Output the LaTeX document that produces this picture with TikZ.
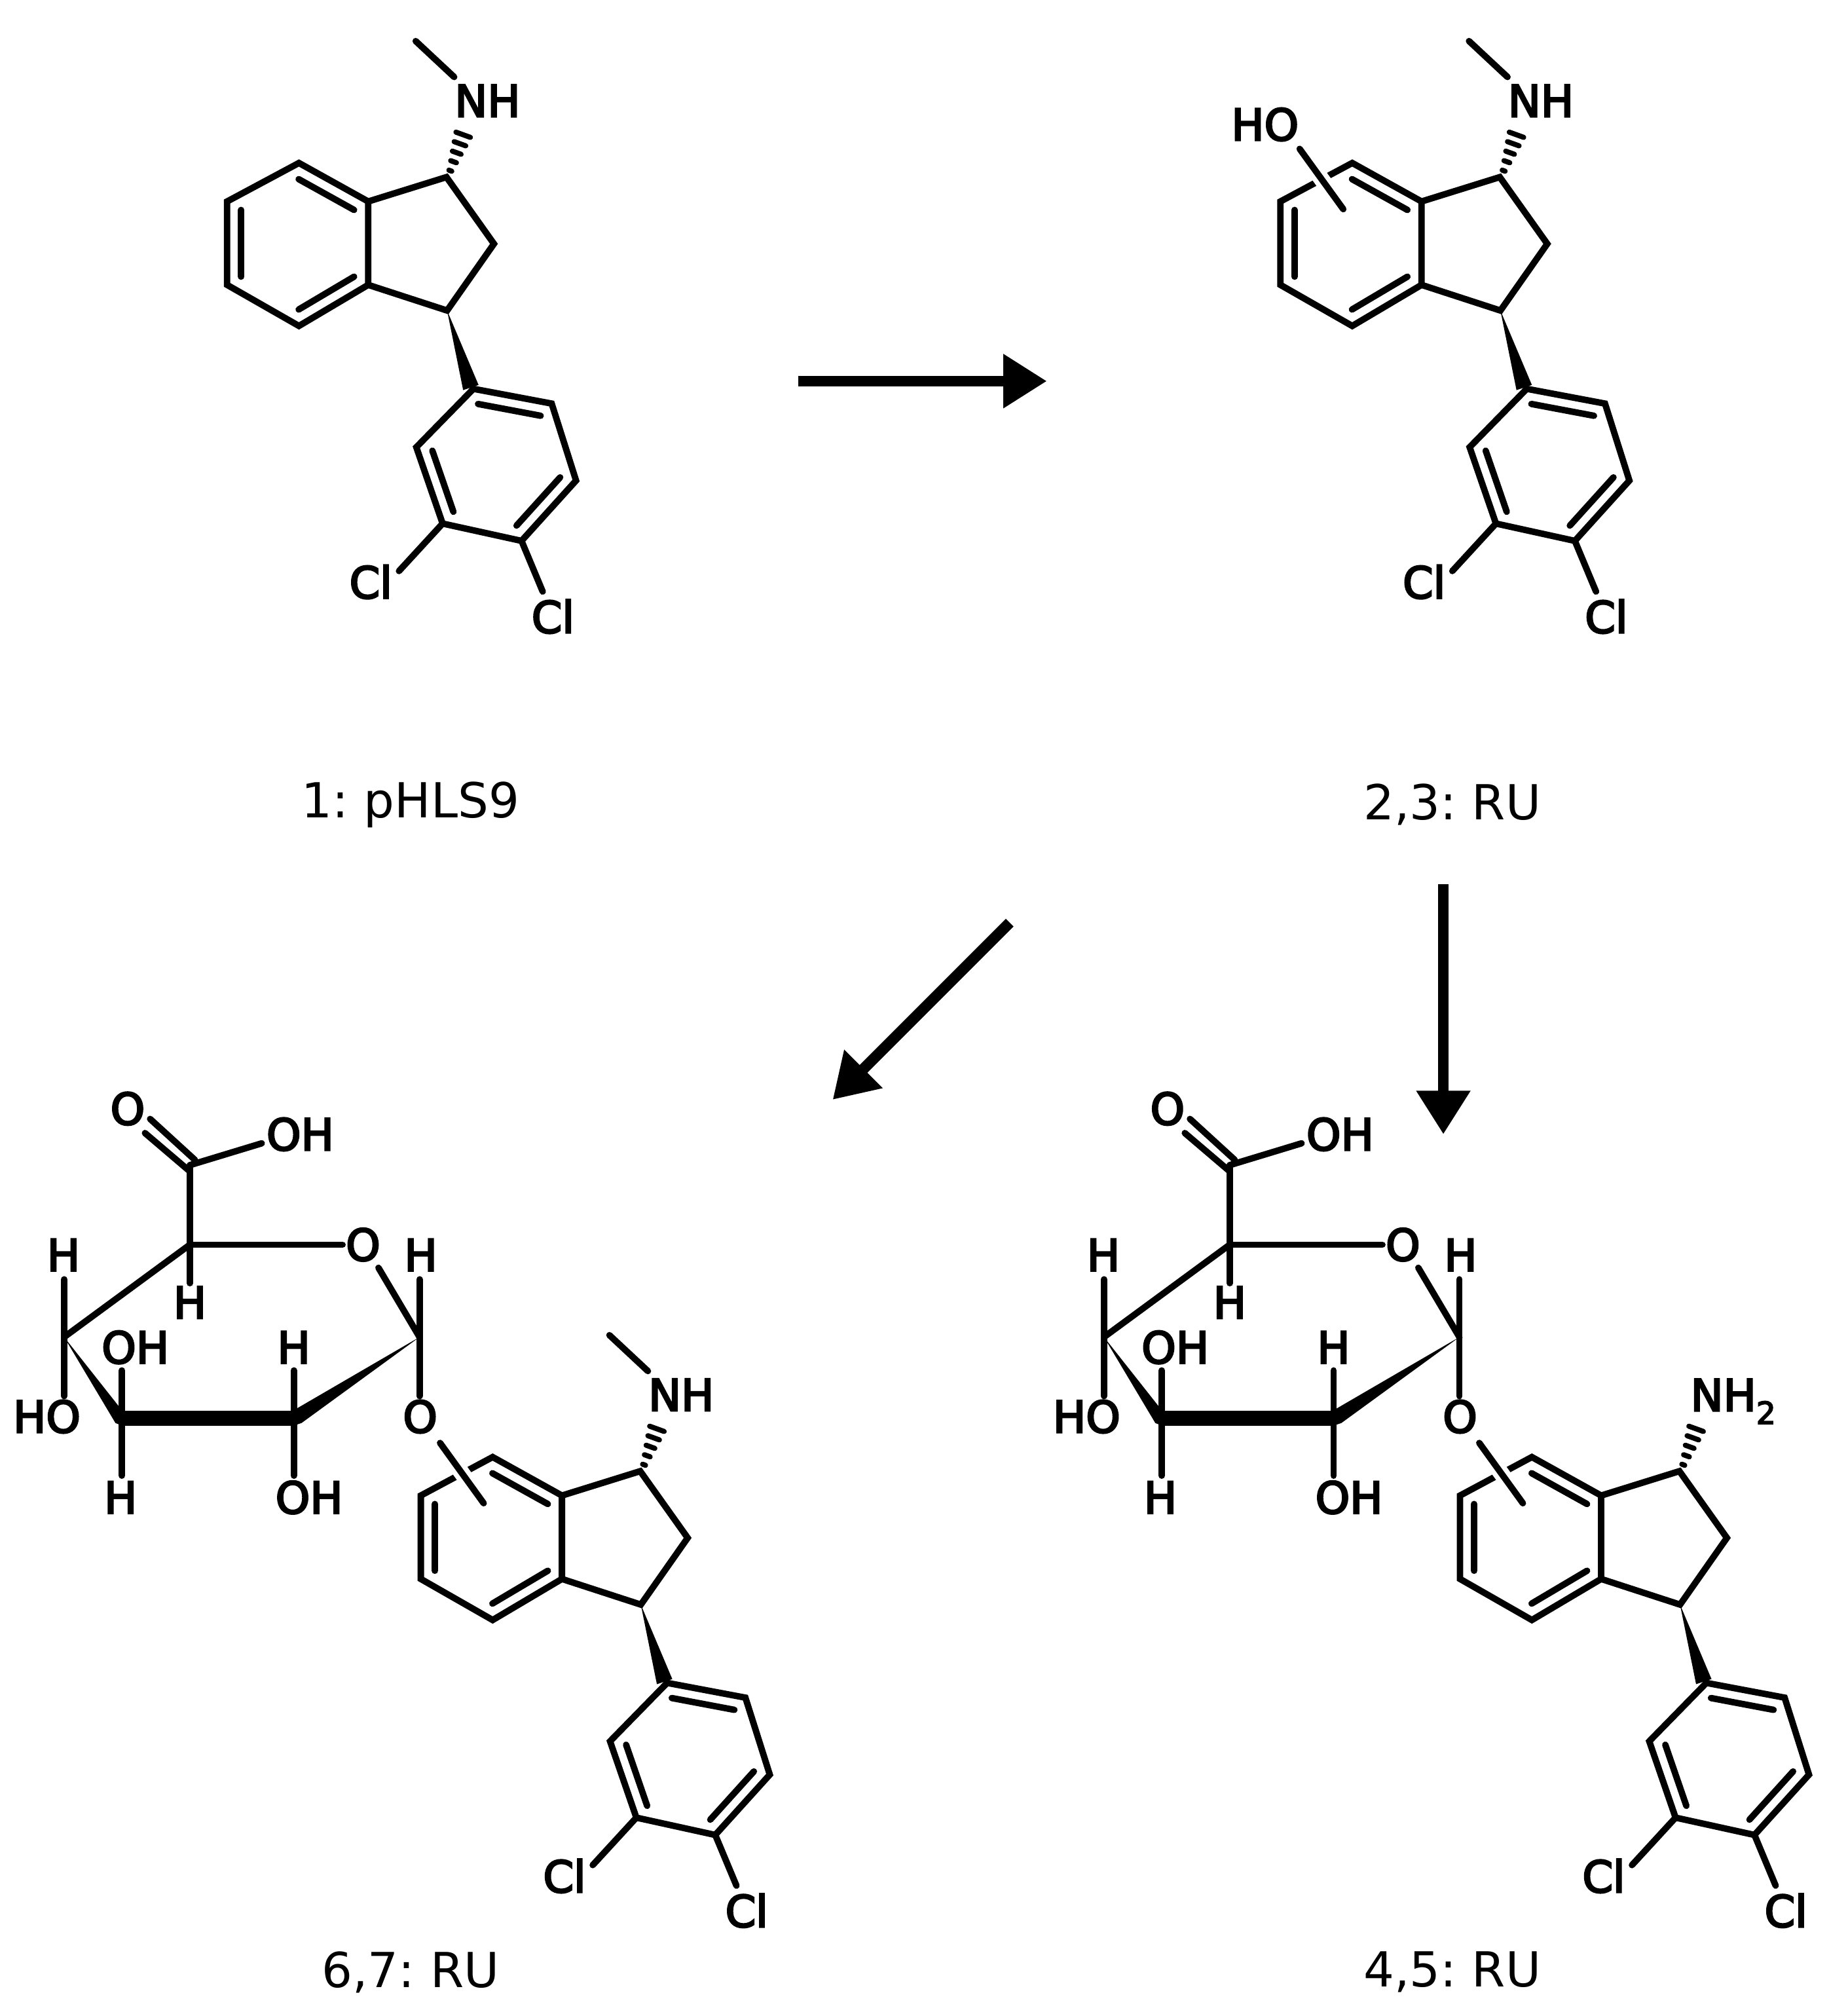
\documentclass[tikz,border=0pt]{standalone}
\usepackage{fontspec}
\setmainfont{DejaVu Sans}
\newfontfamily\atomfont[FakeBold=4]{DejaVu Sans}
\usetikzlibrary{calc,arrows.meta}
\tikzset{
	bond/.style={line width=0.05cm, line cap=round, line join=miter, color=black},
	wedge/.style={fill=black, draw=none},
	atom/.style={inner sep=0pt, font=\atomfont\fontsize{9.7}{12}\selectfont},
	capt/.style={inner sep=0pt, font=\frenchspacing\fontsize{10.7}{13}\selectfont},
	bigarrow/.style={line width=0.085cm, -{Triangle[length=3.4mm,width=4mm]}}
}
% inner line of a double bond: ends, then ring centre
\def\dbl(#1,#2,#3){\draw[bond] ($(#1)!0.2!(#3)$) -- ($(#2)!0.2!(#3)$);}

% rings, with the sizes read off mol 1
\def\indanecore{
	\coordinate (ca) at (348, 138);
	\coordinate (cb) at (385, 190);
	\coordinate (cc) at (348.5, 242);
	\coordinate (cd) at (287, 222);
	\coordinate (ce) at (287, 157);
	\coordinate (cf) at (233, 127);
	\coordinate (cg) at (177, 157);
	\coordinate (ch) at (177, 222);
	\coordinate (ci) at (233, 254);
	\coordinate (benz) at (232, 190);
	\coordinate (ra) at (369, 303);
	\coordinate (rb) at (430, 314.5);
	\coordinate (rc) at (449, 374.5);
	\coordinate (rd) at (406.5, 421.5);
	\coordinate (re) at (345, 408);
	\coordinate (rf) at (324.5, 348.5);
	\coordinate (aryl) at (387, 362);
	\coordinate (cla) at (311, 445);
	\coordinate (clb) at (423, 461);
	\draw[bond] (ca) -- (cb) -- (cc) -- (cd) -- (ce) -- cycle;
	\draw[bond] (ce) -- (cf) -- (cg) -- (ch) -- (ci) -- (cd);
	\dbl(ce,cf,benz)
	\dbl(cg,ch,benz)
	\dbl(ci,cd,benz)
	\draw[bond] (ra) -- (rb) -- (rc) -- (rd) -- (re) -- (rf) -- cycle;
	\dbl(ra,rb,aryl)
	\dbl(rc,rd,aryl)
	\dbl(re,rf,aryl)
	\fill[wedge] (cc) -- (361, 304) -- (373, 300) -- cycle;
	\draw[bond] (re) -- (cla);
	\draw[bond] (rd) -- (clb);
	\node[atom] (cl1) at (289, 453.5) {Cl};
	\node[atom] (cl2) at (431, 480.5) {Cl};
	% hashes of the N bond
	\foreach \hx/\hy/\hw in {351/133/1.2, 353.5/126/2.4, 356/119/3.6, 358.5/112/4.8, 361/105/6}
		\draw[line width=0.04cm, line cap=round] ({\hx-\hw*.94}, {\hy-\hw*.34}) -- ({\hx+\hw*.94}, {\hy+\hw*.34});
}
\def\methyl{
	\coordinate (mea) at (324, 32);
	\coordinate (meb) at (354, 60);
	\draw[bond] (mea) -- (meb);
	\node[atom] (nh) at (380, 78.5) {NH};
}
% bond that crosses the ring at no fixed place
\def\sidearm{
	\coordinate (sa) at (192, 116);
	\coordinate (sb) at (226, 163);
	\draw[white, line width=0.125cm] ($(sa)!0.22!(sb)$) -- ($(sa)!0.62!(sb)$);
	\draw[bond] (sa) -- (sb);
}
\def\sugar{
	\coordinate (cooh) at (148, 908);
	\coordinate (gf) at (148, 970);
	\coordinate (ge) at (50, 1042);
	\coordinate (gd) at (95, 1105);
	\coordinate (gc) at (229, 1105);
	\coordinate (gb) at (327, 1042);
	\node[atom] (oa) at (99.5, 864) {O};
	\node[atom] (ob) at (234, 884) {OH};
	\node[atom] (oc) at (283, 970) {O};
	\node[atom] (hb) at (328, 978) {H};
	\node[atom] (he) at (49.5, 978) {H};
	\node[atom] (hf) at (148, 1015) {H};
	\node[atom] (od) at (105.5, 1050) {OH};
	\node[atom] (hc) at (229, 1050) {H};
	\node[atom] (oe) at (36.5, 1104) {HO};
	\node[atom] (of) at (327.5, 1104) {O};
	\node[atom] (hd) at (94, 1167) {H};
	\node[atom] (og) at (241, 1167) {OH};
	\coordinate (oaa) at (117, 872);
	\coordinate (oab) at (152, 904);
	\coordinate (oac) at (113, 883);
	\coordinate (oad) at (147, 912);
	\coordinate (obb) at (204, 891);
	\coordinate (ocl) at (267, 970);
	\coordinate (ocr) at (295, 988);
	\coordinate (hfb) at (148, 1000);
	\coordinate (het) at (50, 997);
	\coordinate (oeb) at (50, 1088);
	\coordinate (gdt) at (95, 1068);
	\coordinate (gdb) at (95, 1150);
	\coordinate (gct) at (229, 1068);
	\coordinate (gcb) at (229, 1150);
	\coordinate (gbt) at (327, 997);
	\coordinate (gbb) at (327, 1088);
	\draw[bond] (oaa) -- (oab);
	\draw[bond] (oac) -- (oad);
	\draw[bond] (cooh) -- (obb);
	\draw[bond] (cooh) -- (gf);
	\draw[bond] (gf) -- (ocl);
	\draw[bond] (gf) -- (hfb);
	\draw[bond] (gf) -- (ge);
	\draw[bond] (ocr) -- (gb);
	\draw[bond] (het) -- (oeb);
	\draw[bond] (gdt) -- (gdb);
	\draw[bond] (gct) -- (gcb);
	\draw[bond] (gbt) -- (gbb);
	\fill[wedge] (ge) -- (95, 1099) -- (95, 1111) -- (90, 1109) -- cycle;
	\fill[wedge] (gb) -- (229, 1099) -- (229, 1111) -- (235, 1109) -- cycle;
	\fill[wedge] (93, 1099.5) rectangle (231, 1111);
}

\begin{document}
\begin{tikzpicture}[x=0.01cm, y=-0.01cm]
	%%%%% START %%%%%
	\useasboundingbox (0, 0) rectangle (1440, 1568);

	% top left
	\begin{scope}[name prefix=one-]
		\indanecore
		\methyl
	\end{scope}

	% top right
	\begin{scope}[shift={(821, 0)}, name prefix=two-]
		\indanecore
		\methyl
		\sidearm
		\node[atom] (ho) at (165, 97) {HO};
	\end{scope}

	% bottom left
	\begin{scope}[shift={(151, 1008.5)}, name prefix=six-]
		\indanecore
		\methyl
		\sidearm
	\end{scope}
	\begin{scope}[name prefix=sixs-]
		\sugar
	\end{scope}

	% bottom right
	\begin{scope}[shift={(961, 1008.5)}, name prefix=four-]
		\indanecore
		\sidearm
		\node[atom, anchor=base west] (nhtwo) at (356, 91) {NH\raisebox{-0.3em}{\fontsize{6.8}{8}\selectfont 2}};
	\end{scope}
	\begin{scope}[shift={(810.5, 0)}, name prefix=fours-]
		\sugar
	\end{scope}

	\node[capt] (capa) at (320, 627) {1: pHLS9};
	\node[capt] (capb) at (1132, 627) {2,3: RU};
	\node[capt] (capc) at (320, 1537) {6,7: RU};
	\node[capt] (capd) at (1132, 1537) {4,5: RU};

	\coordinate (ara) at (622, 297);
	\coordinate (arb) at (816, 297);
	\coordinate (arc) at (1125, 689);
	\coordinate (ard) at (1125, 884);
	\coordinate (are) at (787, 719);
	\coordinate (arf) at (649, 857);
	\draw[bigarrow] (ara) -- (arb);
	\draw[bigarrow] (arc) -- (ard);
	\draw[bigarrow] (are) -- (arf);
	%%%%% END %%%%%
\end{tikzpicture}
\end{document}
